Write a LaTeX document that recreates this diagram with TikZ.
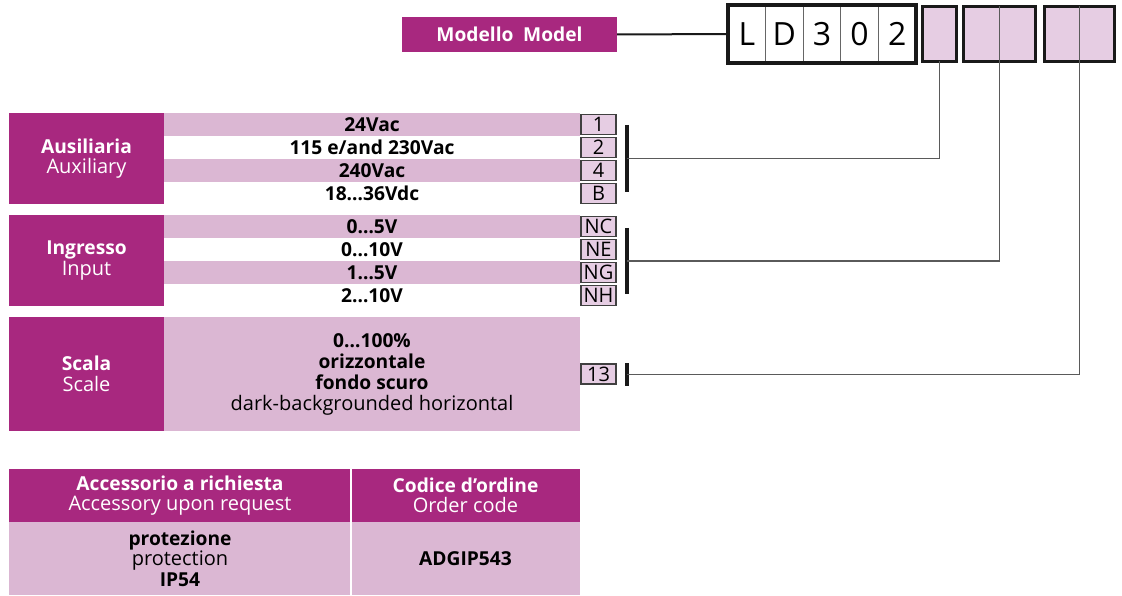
\documentclass[tikz,border=0pt]{standalone}
\usepackage{fontspec}
\setmainfont{Open Sans}
\usetikzlibrary{positioning}

\definecolor{modpurple}{HTML}{A8287F}
\definecolor{rowpink}{HTML}{DBB7D3}
\definecolor{slotpink}{HTML}{E6CDE3}
\definecolor{wiregray}{HTML}{5A5A5A}

\newcommand{\rowfont}{\fontsize{20}{20.5}\selectfont}
\newcommand{\boldfont}{\fontsize{19.2}{20.5}\selectfont\bfseries}
\newcommand{\hd}[1]{{\boldfont #1}}
\newcommand{\codefont}{\fontsize{20}{22}\selectfont}
\newcommand{\digitfont}{\fontsize{32}{34}\selectfont}

\tikzset{
  headbox/.style={fill=modpurple, text=white, inner sep=0pt, outer sep=0pt, anchor=north west, align=center, font=\rowfont},
  pinkrow/.style={fill=rowpink, minimum width=416pt, minimum height=23pt, inner sep=0pt, outer sep=0pt, anchor=north west, align=center, font=\boldfont},
  whiterow/.style={pinkrow, fill=white},
  codebox/.style={draw=black!75, line width=1.2pt, fill=slotpink, minimum width=35pt, minimum height=20pt, inner sep=0pt, outer sep=0pt, font=\codefont},
  digit/.style={draw=black!60, line width=0.8pt, fill=white, minimum width=37.6pt, minimum height=58pt, inner sep=0pt, outer sep=0pt, font=\digitfont},
  slot/.style={draw=black!90, line width=3.5pt, fill=slotpink, minimum height=55pt, inner sep=0pt, outer sep=0pt},
  frame/.style={draw=black!90, line width=3.5pt},
  bar/.style={line width=3.5pt, black!90},
  wire/.style={line width=1.3pt, wiregray},
}

\begin{document}
\begin{tikzpicture}[x=1pt,y=-1pt]
\useasboundingbox (0,0) rectangle (1122,596);

% model code
\node[headbox, anchor=center, minimum width=215pt, minimum height=35pt, font=\boldfont] (modello) at (509.5,34.5) {Modello\enspace Model};
\node[digit] (dL) at (746.8,34) {L};
\node[digit, right=0pt of dL] (dD) {D};
\node[digit, right=0pt of dD] (d3) {3};
\node[digit, right=0pt of d3] (d0) {0};
\node[digit, right=0pt of d0] (d2) {2};
\draw[frame] (dL.north west) rectangle (d2.south east);
\draw[line width=2pt, black!90] (modello.east) -- (dL.west);

\node[slot, minimum width=34pt] (slotA) at (939.5,34) {};
\node[slot, minimum width=72pt] (slotB) at (999.5,34) {};
\node[slot, minimum width=70pt] (slotC) at (1079.5,34) {};
\draw[wire] (slotB.north) -- (slotB.south);
\draw[wire] (slotC.north) -- (slotC.south);

% ausiliaria
\node[headbox, minimum width=155pt, minimum height=91pt] (aux) at (9,113) {\hd{Ausiliaria}\\Auxiliary};
\node[pinkrow] (aux1) at (164,113) {24Vac};
\node[whiterow] (aux2) at (164,136) {115 e/and 230Vac};
\node[pinkrow] (aux3) at (164,159) {240Vac};
\node[whiterow] (aux4) at (164,182) {18…36Vdc};
\node[codebox, right=1pt of aux1] (c1) {1};
\node[codebox, right=1pt of aux2] (c2) {2};
\node[codebox, right=1pt of aux3] (c4) {4};
\node[codebox, right=1pt of aux4] (cB) {B};
\coordinate (auxtop) at (627,125);
\coordinate (auxbot) at (627,192);
\coordinate (auxjoin) at (627,158.5);
\draw[bar] (auxtop) -- (auxbot);
\draw[wire] (auxjoin) -| (slotA.south);

% ingresso
\node[headbox, minimum width=155pt, minimum height=91pt] (inp) at (9,215) {\hd{Ingresso}\\Input};
\node[pinkrow] (inp1) at (164,215) {0…5V};
\node[whiterow] (inp2) at (164,238) {0…10V};
\node[pinkrow] (inp3) at (164,261) {1…5V};
\node[whiterow] (inp4) at (164,284) {2…10V};
\node[codebox, right=1pt of inp1] (cNC) {NC};
\node[codebox, right=1pt of inp2] (cNE) {NE};
\node[codebox, right=1pt of inp3] (cNG) {NG};
\node[codebox, right=1pt of inp4] (cNH) {NH};
\coordinate (inptop) at (627,228);
\coordinate (inpbot) at (627,294);
\coordinate (inpjoin) at (627,261);
\draw[bar] (inptop) -- (inpbot);
\draw[wire] (inpjoin) -| (slotB.south);

% scala
\node[headbox, minimum width=155pt, minimum height=114pt] (scala) at (9,317) {\hd{Scala}\\Scale};
\node[pinkrow, minimum height=114pt, font=\fontsize{19.2}{21}\selectfont\bfseries] (scaladesc) at (164,317) {0…100\%\\orizzontale\\fondo scuro\\\fontsize{20}{21}\selectfont\mdseries dark-backgrounded horizontal};
\node[codebox, right=1pt of scaladesc] (c13) {13};
\coordinate (scatop) at (627,363);
\coordinate (scabot) at (627,386);
\coordinate (scajoin) at (627,374.5);
\draw[bar] (scatop) -- (scabot);
\draw[wire] (scajoin) -| (slotC.south);

% accessori
\node[headbox, minimum width=342pt, minimum height=53pt] (acchead) at (9,469) {\hd{Accessorio a richiesta}\\Accessory upon request};
\node[headbox, minimum width=229pt, minimum height=53pt] (ordhead) at (351,469) {\hd{Codice d’ordine}\\Order code};
\node[pinkrow, minimum width=342pt, minimum height=73pt] (accbody) at (9,522) {protezione\\\fontsize{20}{20.5}\selectfont\mdseries protection\\IP54};
\node[pinkrow, minimum width=229pt, minimum height=73pt] (ordbody) at (351,522) {ADGIP543};
\draw[white, line width=1.2pt] (acchead.north east) -- (accbody.south east);

\end{tikzpicture}
\end{document}
